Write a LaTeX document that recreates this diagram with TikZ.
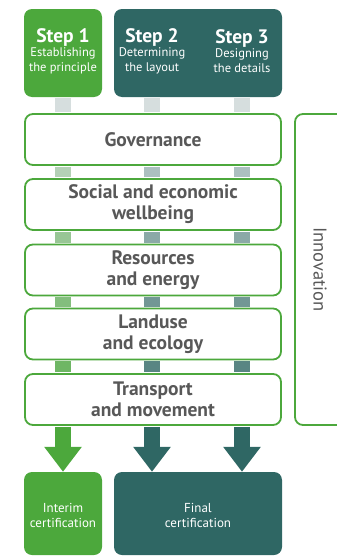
\documentclass[tikz,border=0pt]{standalone}
\usepackage{fontspec}
\setmainfont{PT Sans}
\usetikzlibrary{arrows.meta, positioning}

\definecolor{stepgreen}{RGB}{76,168,60}
\definecolor{stepteal}{RGB}{47,103,100}
\definecolor{bargray}{RGB}{214,222,222}
\definecolor{labelgray}{RGB}{88,88,88}

\tikzset{
  stepbox/.style={fill=#1, rounded corners=8pt, inner sep=0pt},
  steptext/.style={text=white, align=center, font=\fontsize{12.5}{15}\selectfont},
  themebox/.style={draw=stepgreen, line width=1.8pt, fill=white, rounded corners=8pt,
    minimum width=256pt, minimum height=51pt, align=center, text=labelgray,
    font=\fontsize{19.5}{21}\selectfont\bfseries},
  bar/.style={line width=16pt, shorten <=0.9pt, shorten >=0.9pt},
  bigarrow/.style={line width=16pt, shorten <=0.9pt, -{Triangle[width=36pt, length=25pt]}}
}

\begin{document}
\begin{tikzpicture}[x=1pt, y=-1pt]
\useasboundingbox (0,0) rectangle (337,557);
\clip (0,0) rectangle (337,557);

% Steps on top
\node[stepbox=stepgreen, minimum width=78pt, minimum height=88pt] (principle) at (63,53) {};
\node[stepbox=stepteal, minimum width=168pt, minimum height=88pt] (design) at (198,53) {};
\node[steptext] (s1) at (63,51) {{\fontsize{19.5}{19}\selectfont\bfseries Step 1}\\[-1pt]Establishing\\the principle};
\node[steptext] (s2) at (152,51) {{\fontsize{19.5}{19}\selectfont\bfseries Step 2}\\[-1pt]Determining\\the layout};
\node[steptext] (s3) at (242,51) {{\fontsize{19.5}{19}\selectfont\bfseries Step 3}\\[-1pt]Designing\\the details};

% Themes
\node[themebox] (gov) at (153,139.5) {Governance};
\node[themebox] (soc) at (153,204.5) {Social and economic\\wellbeing};
\node[themebox] (res) at (153,270) {Resources\\and energy};
\node[themebox] (land) at (153,334) {Landuse\\and ecology};
\node[themebox] (trans) at (153,399.5) {Transport\\and movement};

\node[draw=stepgreen, line width=1.8pt, rounded corners=8pt, minimum width=50pt,
  minimum height=311pt] (innov) at (320,269.5) {};
\node[rotate=-90, text=labelgray, font=\fontsize{18.5}{18}\selectfont] (innovlabel) at (320,269.5) {Innovation};

% Certification
\node[stepbox=stepgreen, minimum width=78pt, minimum height=83pt] (interim) at (63,513.5) {};
\node[stepbox=stepteal, minimum width=168pt, minimum height=83pt] (final) at (198,513.5) {};
\node[steptext, font=\fontsize{13}{15}\selectfont] (interimlabel) at (63,515) {Interim\\certification};
\node[steptext, font=\fontsize{13}{15}\selectfont] (finallabel) at (198,515) {Final\\certification};

% Bars between boxes
\draw[bar, bargray] (principle.south -| s1) -- (gov.north -| s1);
\draw[bar, bargray] (design.south -| s2) -- (gov.north -| s2);
\draw[bar, bargray] (design.south -| s3) -- (gov.north -| s3);
\foreach \a/\b/\p in {gov/soc/25, soc/res/45, res/land/60, land/trans/75} {
  \foreach \c/\col in {s1/stepgreen, s2/stepteal, s3/stepteal}
    \draw[bar, \col!\p!bargray] (\a.south -| \c) -- (\b.north -| \c);
}

% Arrows into certification
\draw[bigarrow, stepgreen] (trans.south -| s1) -- (interim.north -| s1);
\draw[bigarrow, stepteal] (trans.south -| s2) -- (final.north -| s2);
\draw[bigarrow, stepteal] (trans.south -| s3) -- (final.north -| s3);
\end{tikzpicture}
\end{document}
